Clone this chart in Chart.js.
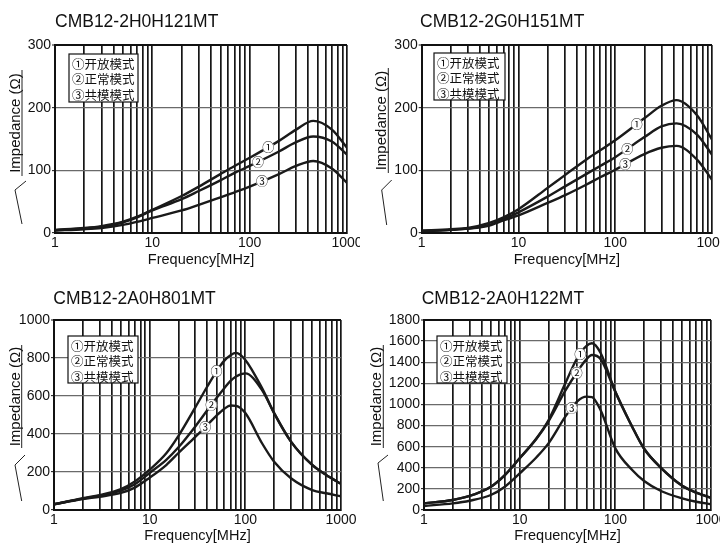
<!DOCTYPE html>
<html><head><meta charset="utf-8">
<script src="https://cdn.jsdelivr.net/npm/chart.js@4.4.1/dist/chart.umd.min.js"></script>
<style>
html,body{margin:0;padding:0;background:#fff;width:720px;height:546px;overflow:hidden}
canvas{position:absolute}
</style></head><body>
<canvas id="c1" width="360" height="273" style="left:0;top:0"></canvas>
<canvas id="c2" width="360" height="273" style="left:360px;top:0"></canvas>
<canvas id="c3" width="360" height="273" style="left:0;top:273px"></canvas>
<canvas id="c4" width="360" height="273" style="left:360px;top:273px"></canvas>
<script>
// ---------- data ----------
const titles = ['CMB12-2H0H121MT','CMB12-2G0H151MT','CMB12-2A0H801MT','CMB12-2A0H122MT'];
const legendLabels = ['①开放模式','②正常模式','③共模模式'];
const curveMarks = ['①','②','③'];
const xTitle = 'Frequency[MHz]';
const yTitle = 'Impedance (Ω)';
const xTickLabels = [1,10,100,1000];
const xGridSignificands = [1,2,3,4,5,6,7,8,9];
const yTicksA = [0,100,200,300];
const yTicksB = [0,100,200,300];
const yTicksC = [0,200,400,600,800,1000];
const yTicksD = [0,200,400,600,800,1000,1200,1400,1600,1800];

// Chart A: CMB12-2H0H121MT
const freqA   = [1,2,3,5,7,10,20,30,50,70,100,200,300,450,700,1000];
const openA   = [5,8,11,18,26,37,59,74,94,107,120,147,165,179,165,136];
const normalA = [4,7,10,17,25,36,54,67,84,96,107,130,145,154,146,125];
const commonA = [4,6,8,13,18,24,36,45,57,65,74,94,107,115,103,80];
const markFreqA = [155,122,134];

// Chart B: CMB12-2G0H151MT
const freqB   = [1,2,3,5,7,10,20,30,50,70,100,200,300,430,700,1000];
const openB   = [4,6,8,16,25,38,72,92,117,132,148,183,203,212,188,149];
const normalB = [3,5,7,13,22,33,58,74,94,107,121,153,170,175,157,125];
const commonB = [3,5,7,12,20,28,48,60,77,89,101,126,136,139,117,85];
const markFreqB = [167,133,127];

// Chart C: CMB12-2A0H801MT
const freqC   = [1,2,3,5,7,10,15,20,30,40,50,60,70,80,100,150,200,300,500,700,1000];
const openC   = [30,62,78,110,150,212,300,390,540,650,730,785,815,827,790,640,510,360,237,184,138];
const normalC = [30,60,75,102,135,195,265,330,440,525,590,640,680,703,719,630,510,360,237,184,138];
const commonC = [30,58,70,90,118,170,238,300,385,447,497,532,550,548,510,350,254,167,105,88,72];
const markFreqC = [50,44,38];

// Chart D: CMB12-2A0H122MT
const freqD   = [1,2,3,5,7,10,15,20,30,40,50,57,70,100,150,200,300,500,700,1000];
const openD   = [63,95,133,221,331,490,680,850,1200,1440,1555,1580,1490,1121,789,580,400,230,165,115];
const normalD = [63,95,133,221,331,490,675,840,1130,1310,1430,1468,1430,1121,789,580,400,230,165,115];
const commonD = [38,63,88,142,221,347,500,631,884,1030,1074,1070,947,584,379,275,180,110,78,55];
const markFreqD = [43,39.5,35];

// ---------- layout / styles ----------
const layouts = [
  {id:'c1', left:55, right:347, top:45, bottom:233, tx:55, ty:27, ulx:22, ytxt:[70,176], slash:[[26,181],[15,190],[22,224]], lg:[69,54,69,48], xtp:4.3},
  {id:'c2', left:61.7, right:352, top:45, bottom:233, tx:60, ty:27, ulx:28.3, ytxt:[68,173], slash:[[31.7,180],[21.7,190],[26.7,225]], lg:[74,53,71,47], xtp:4.3},
  {id:'c3', left:54, right:341, top:47, bottom:237, tx:53.3, ty:30.7, ulx:21.7, ytxt:[72,175], slash:[[25,182],[15,192],[21.7,228]], lg:[68,63,70,47], xtp:1.8},
  {id:'c4', left:64, right:351, top:47, bottom:237, tx:61.7, ty:30.7, ulx:23.3, ytxt:[72,175], slash:[[28,182],[18,190],[23.3,228]], lg:[77,63,70,47], xtp:1.8}
];
const charts = [
  {f:freqA, s:[openA,normalA,commonA], yt:yTicksA, marks:markFreqA},
  {f:freqB, s:[openB,normalB,commonB], yt:yTicksB, marks:markFreqB},
  {f:freqC, s:[openC,normalC,commonC], yt:yTicksC, marks:markFreqC},
  {f:freqD, s:[openD,normalD,commonD], yt:yTicksD, marks:markFreqD}
];

const LATIN = '"Liberation Sans", Arial, sans-serif';
const CJK = '"Noto Sans CJK SC", "Noto Sans", sans-serif';
Chart.defaults.font.family = LATIN;
Chart.defaults.color = '#111';

const xGrid = [];
for (let d = 1; d <= 100; d *= 10) xGridSignificands.forEach(s => xGrid.push(s*d));
xGrid.push(1000);

function interpLog(fs, vs, f) {
  const lf = Math.log10(f);
  for (let i = 0; i < fs.length-1; i++) {
    const a = Math.log10(fs[i]), b = Math.log10(fs[i+1]);
    if (lf >= a && lf <= b) { const t = (lf-a)/(b-a); return vs[i] + t*(vs[i+1]-vs[i]); }
  }
  return vs[vs.length-1];
}

charts.forEach((c, k) => {
  const L = layouts[k];
  const ymax = c.yt[c.yt.length-1];
  const deco = {
    id: 'deco'+k,
    afterDraw(chart) {
      const ctx = chart.ctx;
      const xs = chart.scales.x, ys = chart.scales.y;
      ctx.save();
      // title
      ctx.fillStyle = '#111';
      ctx.font = '17.5px ' + LATIN;
      ctx.textAlign = 'left'; ctx.textBaseline = 'alphabetic';
      ctx.fillText(titles[k], L.tx, L.ty);
      // y title (rotated) with underline decoration
      ctx.save();
      ctx.translate(L.ulx - 2, (L.ytxt[0]+L.ytxt[1])/2);
      ctx.rotate(-Math.PI/2);
      ctx.font = '15px ' + LATIN;
      ctx.textAlign = 'center';
      ctx.fillText(yTitle, 0, 0);
      ctx.restore();
      ctx.strokeStyle = '#222'; ctx.lineWidth = 1;
      ctx.beginPath();
      ctx.moveTo(L.ulx, L.ytxt[0]); ctx.lineTo(L.ulx, L.ytxt[1]);
      ctx.moveTo(L.slash[0][0], L.slash[0][1]);
      ctx.lineTo(L.slash[1][0], L.slash[1][1]);
      ctx.lineTo(L.slash[2][0], L.slash[2][1]);
      ctx.stroke();
      // legend box
      const [bx, by, bw, bh] = L.lg;
      ctx.fillStyle = '#fff';
      ctx.fillRect(bx, by, bw, bh);
      ctx.strokeStyle = '#111'; ctx.lineWidth = 1.2;
      ctx.strokeRect(bx, by, bw, bh);
      ctx.fillStyle = '#111';
      ctx.font = '12.5px ' + CJK;
      ctx.textAlign = 'left'; ctx.textBaseline = 'middle';
      legendLabels.forEach((t, i) => ctx.fillText(t, bx + 3, by + 10 + i*15.5));
      // curve marks
      ctx.font = '12px ' + CJK;
      ctx.textAlign = 'center'; ctx.textBaseline = 'middle';
      c.marks.forEach((f, i) => {
        const px = xs.getPixelForValue(f);
        const py = ys.getPixelForValue(interpLog(c.f, c.s[i], f));
        ctx.fillStyle = '#fff';
        ctx.beginPath(); ctx.arc(px, py, 6, 0, Math.PI*2); ctx.fill();
        ctx.fillStyle = '#111';
        ctx.fillText(curveMarks[i], px, py + 0.5);
      });
      ctx.restore();
    }
  };
  new Chart(document.getElementById(L.id), {
    type: 'line',
    data: {
      datasets: c.s.map((vals, i) => ({
        label: legendLabels[i],
        data: c.f.map((f, j) => ({x: f, y: vals[j]})),
        borderColor: '#1a1a1a', borderWidth: 2.4, pointRadius: 0,
        cubicInterpolationMode: 'monotone', fill: false
      }))
    },
    options: {
      responsive: false, animation: false, devicePixelRatio: 1,
      layout: {padding: {left: 0, right: 360 - L.right, top: L.top, bottom: 0}},
      plugins: {legend: {display: false}, tooltip: {enabled: false}, title: {display: false}},
      scales: {
        x: {
          type: 'logarithmic', min: 1, max: 1000,
          afterBuildTicks: s => { s.ticks = xGrid.map(v => ({value: v})); },
          afterFit: s => { s.height = 273 - L.bottom; s.paddingLeft = 0; s.paddingRight = 0; },
          ticks: {
            autoSkip: false, maxRotation: 0, minRotation: 0, padding: 2,
            font: {size: 14}, color: '#111',
            callback: v => xTickLabels.includes(v) ? String(v) : ''
          },
          grid: {color: '#161616', lineWidth: 1.7, drawTicks: false},
          border: {color: '#111', width: 2},
          title: {display: true, text: xTitle, font: {size: 14.5}, color: '#111', padding: {top: 0, bottom: L.xtp}}
        },
        y: {
          type: 'linear', min: 0, max: ymax,
          afterBuildTicks: s => { s.ticks = c.yt.map(v => ({value: v})); },
          afterFit: s => { s.width = L.left; s.paddingTop = 0; s.paddingBottom = 0; },
          ticks: {padding: 1, font: {size: 14}, color: '#111', callback: v => String(v)},
          grid: {
            color: ctx => (ctx.tick && ctx.tick.value === ymax) ? '#111' : '#6a6a6a',
            lineWidth: ctx => (ctx.tick && ctx.tick.value === ymax) ? 2 : 1.3,
            tickLength: 3, tickColor: '#111', tickWidth: 1
          },
          border: {color: '#111', width: 2}
        }
      }
    },
    plugins: [deco]
  });
});
</script>
</body></html>
